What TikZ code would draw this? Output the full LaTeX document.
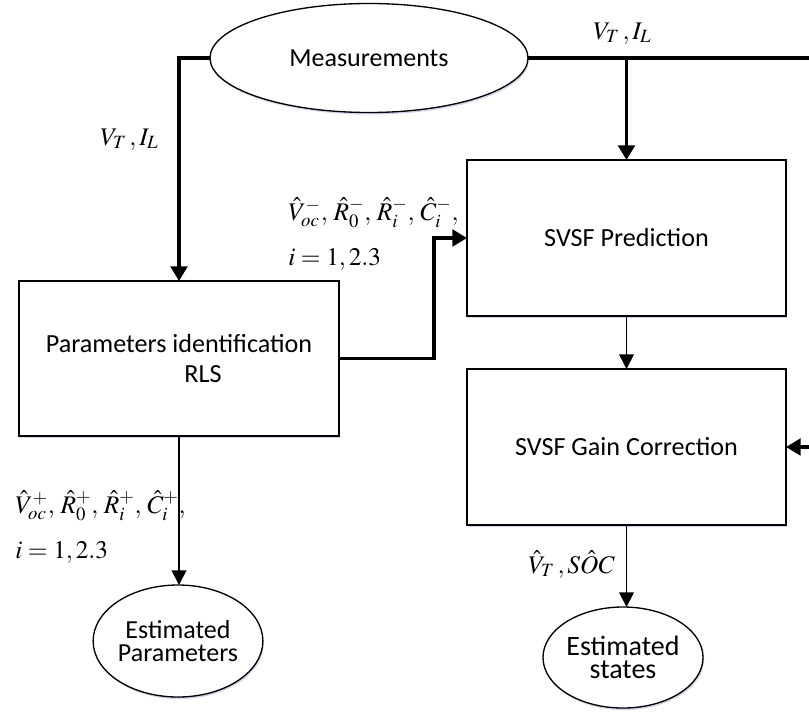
\documentclass[tikz,border=0pt]{standalone}
\usepackage{mathptmx}
\usepackage[no-math]{fontspec}
\setmainfont{Carlito}
\usetikzlibrary{shapes.geometric,arrows.meta,shadows}
\tikzset{
  shd/.style={drop shadow={shadow xshift=0.8pt, shadow yshift=-1.5pt, fill=blue!40!gray, opacity=0.25}},
  blk/.style={draw, line width=1pt, fill=white, inner sep=0pt, outer sep=0pt, shd, align=center, font=\fontsize{19.6}{23}\selectfont},
  ell/.style={ellipse, draw, line width=1pt, fill=white, inner sep=0pt, outer sep=0pt, shd, align=center},
  thk/.style={line width=2.5pt},
  thkarrow/.style={line width=2.5pt, -{Triangle[length=11pt,width=12.5pt]}},
  thnarrow/.style={line width=1.3pt, -{Triangle[length=11pt,width=11pt]}},
  lbl/.style={inner sep=0pt, anchor=base west, font=\fontsize{19}{22}\selectfont}
}
\begin{document}
\begin{tikzpicture}[x=0.75pt,y=-0.75pt]
\useasboundingbox (0,0) rectangle (809,711);

\node[ell, minimum width=238.5pt, minimum height=81.75pt, font=\fontsize{19.5}{22}\selectfont] (meas) at (369,58) {Measurements};
\node[blk, minimum width=240pt, minimum height=116.25pt] (param) at (179,358.5) {Parameters identification\\\hspace*{36pt}RLS};
\node[blk, minimum width=239.25pt, minimum height=117pt] (pred) at (626.5,238) {SVSF Prediction};
\node[blk, minimum width=239.25pt, minimum height=117pt] (gain) at (626.5,447) {SVSF Gain Correction};
\node[ell, minimum width=121.5pt, minimum height=84pt, font=\fontsize{19.5}{17}\selectfont] (estp) at (178,641) {Estimated\\Parameters};
\node[ell, minimum width=120pt, minimum height=75.75pt, font=\fontsize{21}{17}\selectfont] (ests) at (623,657.5) {Estimated\\states};

\coordinate (rend) at (809,58);
\coordinate (br) at (626.5,58);
\coordinate (rin) at (809,447);

\draw[thkarrow] (meas.west) -| (param.north);
\draw[thk] (meas.east) -- (rend);
\draw[thkarrow] (br) -- (pred.north);
\draw[thkarrow] (param.east) -- ++(95,0) |- (pred.west);
\draw[thnarrow] (pred.south) -- (gain.north);
\draw[thkarrow] (rin) -- (gain.east);
\draw[thnarrow] (gain.south) -- (gain.south |- ests.north);
\draw[thnarrow] (param.south) -- (param.south |- estp.north);

\node[lbl] (l1) at (593,39) {$V_T\,, I_L$};
\node[lbl] (l2) at (100,145) {$V_T\,, I_L$};
\node[lbl] (l3) at (288,220) {$\hat V_{oc}^-,\, \hat R_0^-,\, \hat R_i^-,\, \hat C_i^-,$};
\node[lbl] (l4) at (288,265) {$i=1,2.3$};
\node[lbl] (l5) at (15,513) {$\hat V_{oc}^+,\, \hat R_0^+,\, \hat R_i^+,\, \hat C_i^+,$};
\node[lbl] (l6) at (15,558) {$i=1,2.3$};
\node[lbl] (l7) at (528,573) {$\hat V_T\,, S\hat O C$};
\end{tikzpicture}
\end{document}
